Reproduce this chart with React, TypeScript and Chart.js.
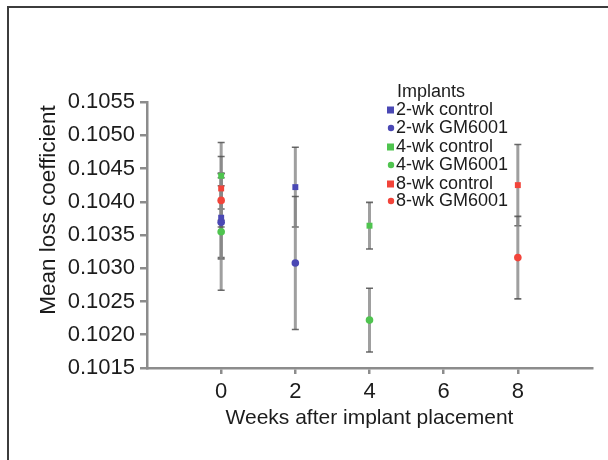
import React, { useEffect, useRef } from "react";
import { Chart, registerables } from "chart.js";

Chart.register(...registerables);

// ---- data ----
const xTickValues = [0, 2, 4, 6, 8];
const yTickMin = 0.1015;
const yTickMax = 0.1055;
const yTickStep = 0.0005;

const seriesNames = ["2-wk control", "2-wk GM6001", "4-wk control", "4-wk GM6001", "8-wk control", "8-wk GM6001"];

const weeks2 = [0, 2];
const weeks4 = [0, 4];
const weeks8 = [0, 8];

const ctrl2Mean = [0.10376, 0.10422];
const ctrl2Err = [0.0006, 0.0006];
const gm2Mean = [0.10369, 0.10308];
const gm2Err = [0.00055, 0.001];
const ctrl4Mean = [0.10439, 0.10364];
const ctrl4Err = [0.0005, 0.00035];
const gm4Mean = [0.10355, 0.10222];
const gm4Err = [0.00088, 0.00048];
const ctrl8Mean = [0.1042, 0.10425];
const ctrl8Err = [0.00048, 0.00061];
const gm8Mean = [0.10402, 0.10316];
const gm8Err = [0.0004, 0.00062];

const BLUE = "#4a48b4";
const GREEN = "#4fc44f";
const RED = "#f2443a";

const FONT = "'Liberation Sans', Arial, sans-serif";

function pts(xs: number[], ys: number[], es: number[]) {
  return xs.map((x, i) => ({ x, y: ys[i], err: es[i] }));
}

const seriesData = [
  { name: seriesNames[0], data: pts(weeks2, ctrl2Mean, ctrl2Err), color: BLUE, style: "rect" },
  { name: seriesNames[1], data: pts(weeks2, gm2Mean, gm2Err), color: BLUE, style: "circle" },
  { name: seriesNames[2], data: pts(weeks4, ctrl4Mean, ctrl4Err), color: GREEN, style: "rect" },
  { name: seriesNames[3], data: pts(weeks4, gm4Mean, gm4Err), color: GREEN, style: "circle" },
  { name: seriesNames[4], data: pts(weeks8, ctrl8Mean, ctrl8Err), color: RED, style: "rect" },
  { name: seriesNames[5], data: pts(weeks8, gm8Mean, gm8Err), color: RED, style: "circle" },
];

const errorBarPlugin = {
  id: "errorBars",
  beforeDatasetsDraw(chart: any) {
    const ctx = chart.ctx;
    const xs = chart.scales.x;
    const ys = chart.scales.y;
    ctx.save();
    chart.data.datasets.forEach((ds: any) => {
      ds.data.forEach((p: any) => {
        const px = xs.getPixelForValue(p.x);
        const top = ys.getPixelForValue(p.y + p.err);
        const bot = ys.getPixelForValue(p.y - p.err);
        ctx.strokeStyle = "rgba(135,135,135,0.8)";
        ctx.lineWidth = 3;
        ctx.beginPath();
        ctx.moveTo(px, top);
        ctx.lineTo(px, bot);
        ctx.stroke();
        ctx.strokeStyle = "rgba(80,80,80,0.85)";
        ctx.lineWidth = 1.6;
        ctx.beginPath();
        ctx.moveTo(px - 3.5, top);
        ctx.lineTo(px + 3.5, top);
        ctx.moveTo(px - 3.5, bot);
        ctx.lineTo(px + 3.5, bot);
        ctx.stroke();
      });
    });
    ctx.restore();
  },
};

const annotationsPlugin = {
  id: "annotationsText",
  afterDraw(chart: any) {
    const ctx = chart.ctx;
    ctx.save();
    // y-axis title
    ctx.fillStyle = "#1c1c1c";
    ctx.font = `22.5px ${FONT}`;
    ctx.textAlign = "center";
    ctx.textBaseline = "middle";
    ctx.translate(49, 210);
    ctx.rotate(-Math.PI / 2);
    ctx.fillText("Mean loss coefficient", 0, 0);
    ctx.restore();

    // legend
    ctx.save();
    ctx.font = `18px ${FONT}`;
    ctx.fillStyle = "#1c1c1c";
    ctx.textAlign = "left";
    ctx.textBaseline = "middle";
    ctx.fillText("Implants", 397, 92);
    const rows = [110, 128, 147, 165, 184, 201];
    chart.data.datasets.forEach((ds: any, i: number) => {
      const y = rows[i];
      ctx.fillStyle = ds.backgroundColor;
      if (ds.pointStyle === "rect") {
        ctx.fillRect(387, y - 3.5, 7, 7);
      } else {
        ctx.beginPath();
        ctx.arc(391, y, 3.2, 0, Math.PI * 2);
        ctx.fill();
      }
      ctx.fillStyle = "#1c1c1c";
      ctx.fillText(ds.label, 396, y);
    });
    ctx.restore();
  },
};

export default function App() {
  const canvasRef = useRef<HTMLCanvasElement | null>(null);

  useEffect(() => {
    if (!canvasRef.current) return;
    const chart = new Chart(canvasRef.current, {
      type: "scatter",
      data: {
        datasets: seriesData.map((s) => ({
          label: s.name,
          data: s.data as any,
          backgroundColor: s.color,
          borderColor: s.color,
          pointStyle: s.style as any,
          pointRadius: s.style === "rect" ? 4.2 : 3.8,
          pointBorderWidth: 0,
          showLine: false,
        })),
      },
      options: {
        animation: false,
        responsive: false,
        devicePixelRatio: 1,
        layout: { padding: { left: 0, top: 102, right: 16, bottom: 0 } },
        plugins: {
          legend: { display: false },
          tooltip: { enabled: false },
        },
        scales: {
          x: {
            type: "linear",
            min: -2,
            max: 10,
            afterBuildTicks: (scale: any) => {
              scale.ticks = xTickValues.map((v) => ({ value: v }));
            },
            afterFit: (scale: any) => {
              scale.height = 92;
            },
            border: { color: "#8c8c8c", width: 2.5 },
            grid: { drawOnChartArea: false, drawTicks: true, tickLength: 6, color: "#8c8c8c", lineWidth: 2.5 },
            ticks: {
              color: "#1c1c1c",
              font: { family: FONT, size: 22 },
              padding: 5,
              maxRotation: 0,
              callback: (v: any) => String(v),
            },
            title: {
              display: true,
              text: "Weeks after implant placement",
              color: "#1c1c1c",
              font: { family: FONT, size: 21 },
              padding: { top: 0, bottom: 29 },
            },
          },
          y: {
            type: "linear",
            min: yTickMin,
            max: yTickMax,
            afterFit: (scale: any) => {
              scale.width = 147;
            },
            border: { color: "#8c8c8c", width: 2.5 },
            grid: { drawOnChartArea: false, drawTicks: true, tickLength: 7, color: "#8c8c8c", lineWidth: 2.5 },
            ticks: {
              stepSize: yTickStep,
              color: "#1c1c1c",
              font: { family: FONT, size: 22 },
              padding: 5,
              callback: (v: any) => Number(v).toFixed(4),
            },
          },
        },
      },
      plugins: [errorBarPlugin, annotationsPlugin],
    });
    return () => chart.destroy();
  }, []);

  return (
    <div style={{ position: "fixed", left: 0, top: 0, width: 608, height: 460, background: "#fff", overflow: "hidden" }}>
      <div
        style={{
          position: "absolute",
          left: 7,
          top: 6,
          width: 700,
          height: 600,
          borderTop: "2px solid #3c3c3c",
          borderLeft: "2px solid #3c3c3c",
        }}
      />
      <canvas ref={canvasRef} width={608} height={460} style={{ position: "absolute", left: 0, top: 0, width: 608, height: 460 }} />
    </div>
  );
}
